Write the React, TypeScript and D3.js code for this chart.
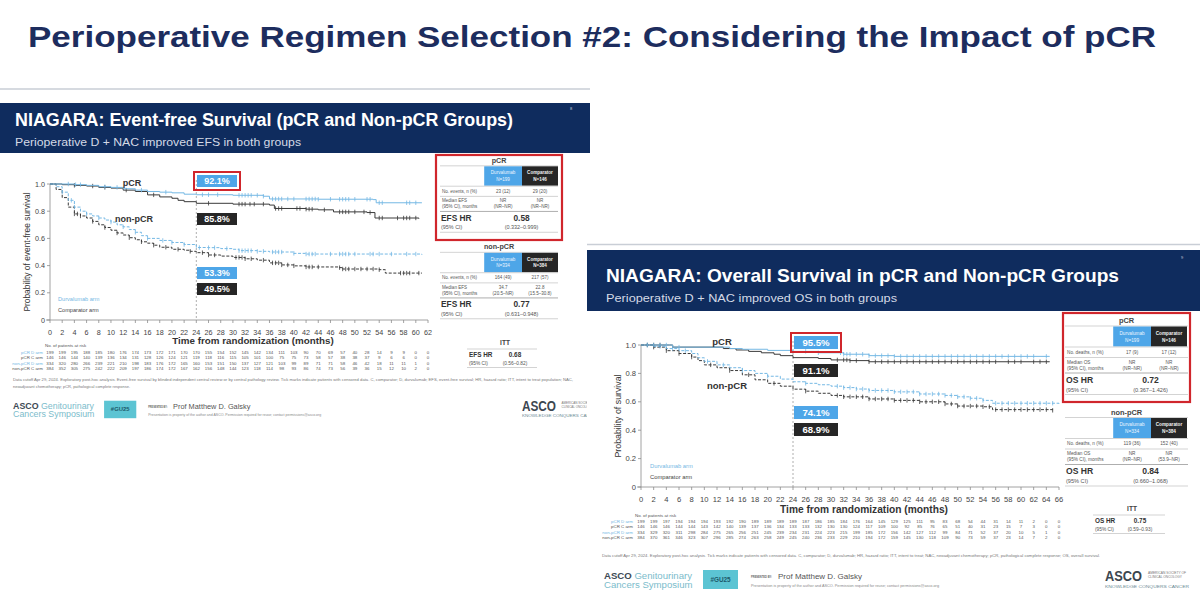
import React from 'react';
import * as d3 from 'd3';

type Pt = [number, number];

const FONT = '"Liberation Sans", Arial, sans-serif';
const NAVY = '#0f2c5e';
const TITLE_NAVY = '#1d2d5e';
const BLUE_FILL = '#4ea6e8';
const CURVE_BLUE = '#74b8e4';
const DARK_FILL = '#262626';
const CURVE_DARK = '#3a3a3a';
const RED = '#d0262c';
const TXT = '#555';

// ---------- Event-free survival (months, probability) ----------
const efsPcrD: Pt[] = [[0, 1], [3, 1], [4, 0.995], [6, 0.99], [8, 0.98], [10, 0.975], [12, 0.965], [14, 0.955], [16, 0.945], [18, 0.94], [20, 0.935], [22, 0.925], [24, 0.921], [30, 0.917], [35, 0.91], [36, 0.89], [44, 0.888], [53, 0.885], [53.5, 0.862], [61, 0.862]];
const efsPcrC: Pt[] = [[0, 1], [2, 0.995], [4, 0.99], [6, 0.985], [8, 0.975], [10, 0.97], [12, 0.955], [14, 0.945], [16, 0.92], [18, 0.905], [20, 0.895], [21, 0.88], [22, 0.87], [24, 0.858], [30, 0.852], [36, 0.845], [36.8, 0.82], [42, 0.815], [44, 0.81], [46.5, 0.795], [52, 0.79], [53.3, 0.75], [60.5, 0.745]];
const efsNonD: Pt[] = [[0, 1], [1, 0.98], [2, 0.94], [3, 0.88], [4, 0.83], [5, 0.8], [6, 0.78], [7, 0.765], [8, 0.75], [9, 0.735], [10, 0.72], [11, 0.7], [12, 0.685], [13, 0.665], [14, 0.645], [15, 0.62], [16, 0.6], [18, 0.585], [20, 0.57], [22, 0.555], [24, 0.533], [26, 0.532], [28, 0.525], [30, 0.52], [31, 0.51], [34, 0.505], [36, 0.5], [40, 0.49], [42, 0.485], [61, 0.48]];
const efsNonC: Pt[] = [[0, 1], [1, 0.96], [2, 0.9], [3, 0.83], [4, 0.78], [5, 0.765], [6, 0.75], [7, 0.725], [8, 0.7], [9, 0.68], [10, 0.66], [11, 0.64], [12, 0.625], [13, 0.605], [14, 0.59], [15, 0.575], [16, 0.565], [17, 0.55], [18, 0.535], [20, 0.52], [22, 0.513], [23, 0.505], [24, 0.495], [26, 0.478], [28, 0.47], [30, 0.46], [32, 0.45], [34, 0.44], [36, 0.42], [38, 0.405], [40, 0.398], [42, 0.39], [47.5, 0.385], [48, 0.375], [54, 0.37], [55, 0.345], [61, 0.345]];

const efsCensorPcrD = [3, 4.2, 5, 9, 11, 15, 19, 25, 26, 27.5, 31, 31.5, 32, 32.5, 33, 34, 35, 36.5, 37, 37.5, 38, 39, 40, 42, 42.5, 43, 43.5, 44, 46, 47.5, 48, 48.5, 49, 50, 52, 52.5, 54, 54.5, 58.5, 59, 60];
const efsCensorPcrC = [4, 7, 9, 12.5, 17, 26, 31, 31.5, 32, 32.8, 33.5, 35, 37, 37.5, 38, 40.5, 41, 42, 42.5, 43, 45, 47.5, 48, 48.5, 49, 50, 51.5, 52.5, 54, 54.5, 57, 58, 58.5, 59, 60];
const efsCensorNonD = [2, 3.5, 4, 6, 8, 10, 12, 14, 16, 18.5, 20, 22, 24.5, 26, 27, 29, 31, 31.5, 32, 32.5, 33, 34, 35, 36.5, 37, 37.5, 38, 40, 42, 42.5, 43, 43.5, 46, 47.5, 48, 48.5, 49, 50, 52.5, 53, 54, 56, 58.5, 60];
const efsCensorNonC = [4, 4.5, 5, 7, 9, 11, 13, 15, 17, 19, 21, 23, 25, 26, 27, 30.5, 31, 31.5, 32, 33, 35, 36.5, 37, 37.5, 38, 39, 40, 42, 42.5, 43, 44, 47.5, 48, 48.5, 49, 50, 51, 52, 53, 54, 57.5, 58, 58.5, 59, 60.5];

// ---------- Overall survival (months, probability) ----------
const osPcrD: Pt[] = [[0, 1], [4.5, 1], [5, 0.985], [12, 0.985], [14, 0.975], [16, 0.97], [20, 0.962], [24, 0.955], [28, 0.945], [32, 0.935], [36, 0.925], [40, 0.92], [64.5, 0.918]];
const osPcrC: Pt[] = [[0, 1], [4.5, 1], [5, 0.985], [12, 0.985], [13, 0.975], [15, 0.965], [17, 0.955], [19, 0.945], [21, 0.935], [22, 0.925], [24, 0.911], [28, 0.905], [30, 0.895], [33, 0.89], [36, 0.882], [64.5, 0.88]];
const osNonD: Pt[] = [[0, 1], [2, 0.99], [4, 0.975], [6, 0.96], [8, 0.94], [9, 0.91], [10, 0.885], [12, 0.86], [14, 0.84], [16, 0.82], [18, 0.8], [20, 0.78], [22, 0.76], [24, 0.741], [26, 0.73], [28, 0.72], [30, 0.71], [32, 0.7], [34, 0.69], [36, 0.68], [40, 0.67], [44, 0.655], [48, 0.645], [50, 0.635], [52, 0.625], [54, 0.61], [55.5, 0.59], [66, 0.585]];
const osNonC: Pt[] = [[0, 1], [2, 0.985], [4, 0.96], [6, 0.94], [8, 0.915], [9, 0.89], [10, 0.86], [12, 0.84], [14, 0.82], [16, 0.79], [18, 0.755], [20, 0.73], [22, 0.71], [24, 0.689], [26, 0.675], [28, 0.66], [30, 0.645], [32, 0.635], [36, 0.62], [40, 0.61], [44, 0.6], [48, 0.585], [50, 0.57], [54, 0.565], [55.5, 0.545], [65, 0.54]];

const osCensorPcrD = [1, 2, 3, 4, 6, 26, 28, 31.5, 32, 32.5, 33, 34, 35, 36, 37, 38, 39, 40, 41, 42, 43, 44, 45, 46, 47, 48, 49, 50, 51, 52, 53, 54, 55, 56, 57, 58, 59, 60, 61, 62, 64];
const osCensorPcrC = [1, 2, 3, 31, 32, 32.5, 33, 34, 36, 37, 38, 39, 40, 41, 42, 43, 44, 45, 46, 47, 48, 49, 50, 51, 52, 53, 54, 55, 56, 58, 59, 60, 62, 63, 64];
const osCensorNonD = [1, 3, 5, 7, 10.5, 13, 16, 20, 26, 31, 32, 33, 34, 35, 36, 37, 38, 39, 40, 41, 42, 43, 44, 45, 46, 47, 48, 49, 50, 51, 52, 53, 54, 56, 57, 58, 59, 60, 61, 62, 63, 64, 65];
const osCensorNonC = [2, 4, 6, 8, 11, 14, 17, 21, 26, 31, 32, 33, 34, 35, 36, 37, 38, 39, 40, 41, 42, 43, 44, 45, 46, 47, 48, 49, 50, 51, 52, 53, 54, 55, 56, 57, 58, 59, 60, 61, 62, 63, 64, 65];

// ---------- Numbers at risk (every 2 months) ----------
const riskLabels = ['pCR D arm', 'pCR C arm', 'non-pCR D arm', 'non-pCR C arm'];
const efsRiskPcrD = [199, 199, 195, 188, 185, 180, 176, 174, 173, 172, 171, 170, 170, 155, 154, 152, 145, 142, 134, 111, 103, 90, 70, 69, 57, 40, 28, 14, 9, 9, 0, 0];
const efsRiskPcrC = [146, 146, 144, 140, 139, 136, 134, 131, 128, 126, 124, 121, 119, 118, 116, 115, 105, 101, 100, 75, 75, 73, 58, 57, 38, 38, 37, 9, 6, 6, 0, 0];
const efsRiskNonD = [334, 320, 280, 266, 239, 221, 210, 198, 183, 176, 172, 165, 160, 153, 151, 150, 137, 127, 121, 103, 99, 89, 71, 71, 58, 46, 42, 18, 11, 11, 1, 0];
const efsRiskNonC = [384, 352, 305, 275, 242, 222, 209, 197, 186, 174, 172, 167, 162, 156, 148, 144, 123, 118, 114, 98, 93, 86, 74, 73, 56, 39, 36, 15, 12, 10, 2, 0];
const osRiskPcrD = [199, 199, 197, 194, 194, 194, 193, 192, 190, 189, 189, 189, 189, 187, 186, 185, 184, 176, 164, 145, 129, 125, 111, 95, 83, 68, 54, 44, 31, 14, 11, 2, 0, 0];
const osRiskPcrC = [146, 146, 146, 144, 144, 143, 142, 140, 139, 137, 136, 134, 133, 133, 132, 130, 130, 124, 117, 109, 100, 92, 85, 76, 65, 51, 40, 31, 23, 15, 7, 3, 0, 0];
const osRiskNonD = [334, 329, 320, 311, 298, 284, 275, 265, 256, 251, 245, 239, 234, 231, 224, 223, 215, 199, 185, 172, 156, 142, 127, 112, 99, 84, 71, 52, 37, 20, 10, 5, 1, 0];
const osRiskNonC = [384, 370, 361, 346, 323, 307, 296, 285, 274, 263, 258, 249, 245, 240, 236, 233, 229, 210, 194, 172, 159, 145, 130, 118, 109, 90, 73, 59, 37, 23, 14, 7, 2, 0];

// ---------- Landmark rates at 24 months ----------
const efsLandmark = [
  { label: '92.1%', value: 0.921, blue: true, boxed: true },
  { label: '85.8%', value: 0.858, blue: false, boxed: false },
  { label: '53.3%', value: 0.533, blue: true, boxed: false },
  { label: '49.5%', value: 0.495, blue: false, boxed: false },
];
const osLandmark = [
  { label: '95.5%', value: 0.955, blue: true, boxed: true },
  { label: '91.1%', value: 0.911, blue: false, boxed: false },
  { label: '74.1%', value: 0.741, blue: true, boxed: false },
  { label: '68.9%', value: 0.689, blue: false, boxed: false },
];

// ---------- Table contents ----------
const efsPcrTable = ['N=199', 'N=146', '23 (12)', '29 (20)', 'NR', '(NR–NR)', 'NR', '(NR–NR)', '0.58', '(0.332–0.999)'];
const efsNonTable = ['N=334', 'N=384', '164 (49)', '217 (57)', '34.7', '(20.5–NR)', '22.8', '(15.5–30.8)', '0.77', '(0.631–0.948)'];
const efsItt = ['0.68', '(0.56–0.82)'];
const osPcrTable = ['N=199', 'N=146', '17 (9)', '17 (12)', 'NR', '(NR–NR)', 'NR', '(NR–NR)', '0.72', '(0.367–1.426)'];
const osNonTable = ['N=334', 'N=384', '119 (36)', '152 (40)', 'NR', '(NR–NR)', 'NR', '(53.9–NR)', '0.84', '(0.660–1.068)'];
const osItt = ['0.75', '(0.59–0.93)'];

function valueAt(data: Pt[], t: number) {
  let v = data[0][1];
  for (const [m, p] of data) {
    if (m <= t) v = p;
    else break;
  }
  return v;
}

interface Series { data: Pt[]; censor: number[]; color: string; dashed: boolean }

function KMPanel(props: {
  x: d3.ScaleLinear<number, number>;
  y: d3.ScaleLinear<number, number>;
  xMax: number;
  series: Series[];
  yLabel: string;
  yLabelX: number;
  fs: number;
  xLabelY: number;
  tickLabelY: number;
}) {
  const { x, y, xMax, series, yLabel, yLabelX, fs, xLabelY, tickLabelY } = props;
  const line = d3.line<Pt>().x((d) => x(d[0])).y((d) => y(d[1])).curve(d3.curveStepAfter);
  const xTicks = d3.range(0, xMax + 1, 2);
  const yTicks = [0, 0.2, 0.4, 0.6, 0.8, 1];
  const x0 = x(0);
  const y0 = y(0);
  const axis = '#8c8c8c';
  return (
    <g fontFamily={FONT}>
      <line x1={x(24)} x2={x(24)} y1={y(1) - 4} y2={y0} stroke="#9a9a9a" strokeWidth={0.8} strokeDasharray="2,2" />
      <line x1={x0} x2={x0} y1={y(1)} y2={y0} stroke={axis} strokeWidth={0.8} />
      {yTicks.map((t) => (
        <g key={t}>
          <line x1={x0 - 3} x2={x0} y1={y(t)} y2={y(t)} stroke={axis} strokeWidth={0.8} />
          <text x={x0 - 5} y={y(t) + fs * 0.35} textAnchor="end" fontSize={fs} fill="#444">
            {t === 0 ? '0' : t.toFixed(1)}
          </text>
        </g>
      ))}
      <line x1={x0 - 4} x2={x(xMax)} y1={y0} y2={y0} stroke={axis} strokeWidth={0.8} />
      {xTicks.map((t) => (
        <g key={t}>
          <line x1={x(t)} x2={x(t)} y1={y0} y2={y0 + 3} stroke={axis} strokeWidth={0.8} />
          <text x={x(t)} y={tickLabelY} textAnchor="middle" fontSize={fs} fill="#444">
            {t}
          </text>
        </g>
      ))}
      <text x={(x0 + x(xMax)) / 2 + 14} y={xLabelY} textAnchor="middle" fontSize={fs + 2.6} fontWeight="bold" fill="#333">
        Time from randomization (months)
      </text>
      <text transform={`translate(${yLabelX},${(y(1) + y0) / 2}) rotate(-90)`} textAnchor="middle" fontSize={fs + 1.2} fill="#333">
        {yLabel}
      </text>
      {series.map((s, i) => (
        <g key={i}>
          <path d={line(s.data) || ''} fill="none" stroke={s.color} strokeWidth={1} strokeDasharray={s.dashed ? '3,1.6' : undefined} />
          {s.censor.map((c, j) => {
            const v = valueAt(s.data, c);
            return <line key={j} x1={x(c)} x2={x(c)} y1={y(v) - 2.2} y2={y(v) + 2.2} stroke={s.color} strokeWidth={0.8} />;
          })}
        </g>
      ))}
    </g>
  );
}

function Landmarks(props: {
  x: number;
  w: number;
  h: number;
  ys: number[];
  items: { label: string; value: number; blue: boolean; boxed: boolean }[];
  fs: number;
}) {
  const { x, w, h, ys, items, fs } = props;
  return (
    <g fontFamily={FONT}>
      {items.map((it, i) => (
        <g key={it.label}>
          {it.boxed && <rect x={x - 3} y={ys[i] - 3} width={w + 6} height={h + 6} fill="none" stroke={RED} strokeWidth={2} />}
          <rect x={x} y={ys[i]} width={w} height={h} fill={it.blue ? BLUE_FILL : DARK_FILL} />
          <text x={x + w / 2} y={ys[i] + h / 2 + fs * 0.36} textAnchor="middle" fontSize={fs} fontWeight="bold" fill="#fff">
            {it.label}
          </text>
        </g>
      ))}
    </g>
  );
}

function RiskTable(props: {
  x: d3.ScaleLinear<number, number>;
  rows: number[][];
  labelX: number;
  headY: number;
  rowY: number[];
  fs: number;
}) {
  const { x, rows, labelX, headY, rowY, fs } = props;
  const colors = [CURVE_BLUE, '#555', CURVE_BLUE, '#555'];
  return (
    <g fontFamily={FONT} fontSize={fs}>
      <text x={labelX + 2} y={headY} fill="#555">No. of patients at risk</text>
      {rows.map((r, i) => (
        <g key={i}>
          <text x={labelX} y={rowY[i]} textAnchor="end" fill={colors[i]}>{riskLabels[i]}</text>
          {r.map((v, j) => (
            <text key={j} x={x(j * 2)} y={rowY[i]} textAnchor="middle" fill="#555">{v}</text>
          ))}
        </g>
      ))}
    </g>
  );
}

function StatTable(props: {
  L: number; R: number; split: number; dEnd: number; T: number; s: number;
  title: string; vals: string[]; countLabel: string; medLabel: string; hrLabel: string;
  boxed: boolean; box?: number[];
}) {
  const { L, R, split, dEnd, T, s, title, vals, countLabel, medLabel, hrLabel, boxed, box } = props;
  const dStart = split - (dEnd - split) * 1.05;
  const dC = (dStart + split) / 2;
  const cC = (split + dEnd) / 2;
  const hrX = (dC + cC) / 2;
  const sm = 4.7 * s;
  const ln = '#c8c8c8';
  const o = (k: number) => T + k * s;
  return (
    <g fontFamily={FONT}>
      {boxed && box && <rect x={box[0]} y={box[1]} width={box[2]} height={box[3]} fill="#fff" stroke={RED} strokeWidth={2.2} />}
      <text x={(L + R) / 2} y={o(2.5)} textAnchor="middle" fontSize={7.4 * s} fontWeight="bold" fill="#444">{title}</text>
      <line x1={L} x2={R} y1={o(5.5)} y2={o(5.5)} stroke={ln} strokeWidth={0.8} />
      <rect x={dStart} y={o(6)} width={split - dStart} height={20 * s} fill={BLUE_FILL} />
      <rect x={split} y={o(6)} width={dEnd - split} height={20 * s} fill={DARK_FILL} />
      <text x={dC} y={o(14)} textAnchor="middle" fontSize={sm} fill="#eef6ff">Durvalumab</text>
      <text x={dC} y={o(21)} textAnchor="middle" fontSize={sm} fill="#eef6ff">{vals[0]}</text>
      <text x={cC} y={o(14)} textAnchor="middle" fontSize={sm} fontWeight="bold" fill="#f2f2f2">Comparator</text>
      <text x={cC} y={o(21)} textAnchor="middle" fontSize={sm} fontWeight="bold" fill="#f2f2f2">{vals[1]}</text>
      <line x1={L} x2={R} y1={o(26.5)} y2={o(26.5)} stroke={ln} strokeWidth={0.8} />
      <text x={L + 2} y={o(33)} fontSize={sm} fill={TXT}>{countLabel}</text>
      <text x={dC} y={o(33)} textAnchor="middle" fontSize={sm} fill={TXT}>{vals[2]}</text>
      <text x={cC} y={o(33)} textAnchor="middle" fontSize={sm} fill={TXT}>{vals[3]}</text>
      <line x1={L} x2={R} y1={o(37)} y2={o(37)} stroke={ln} strokeWidth={0.8} />
      <text x={L + 2} y={o(43)} fontSize={sm} fill={TXT}>{medLabel}</text>
      <text x={L + 2} y={o(49)} fontSize={sm} fill={TXT}>(95% CI), months</text>
      <text x={dC} y={o(43)} textAnchor="middle" fontSize={sm} fill={TXT}>{vals[4]}</text>
      <text x={dC} y={o(49)} textAnchor="middle" fontSize={sm} fill={TXT}>{vals[5]}</text>
      <text x={cC} y={o(43)} textAnchor="middle" fontSize={sm} fill={TXT}>{vals[6]}</text>
      <text x={cC} y={o(49)} textAnchor="middle" fontSize={sm} fill={TXT}>{vals[7]}</text>
      <line x1={L} x2={R} y1={o(52.5)} y2={o(52.5)} stroke="#999" strokeWidth={0.8} />
      <text x={L + 1} y={o(62)} fontSize={8.6 * s} fontWeight="bold" fill="#333">{hrLabel}</text>
      <text x={hrX} y={o(62)} textAnchor="middle" fontSize={8.6 * s} fontWeight="bold" fill="#333">{vals[8]}</text>
      <text x={L + 1} y={o(71)} fontSize={5.6 * s} fill={TXT}>(95% CI)</text>
      <text x={hrX} y={o(71)} textAnchor="middle" fontSize={5.6 * s} fill={TXT}>{vals[9]}</text>
      <line x1={L} x2={R} y1={o(74)} y2={o(74)} stroke={ln} strokeWidth={0.8} />
    </g>
  );
}

function IttTable(props: { L: number; R: number; valX: number; T: number; s: number; hrLabel: string; vals: string[] }) {
  const { L, R, valX, T, s, hrLabel, vals } = props;
  return (
    <g fontFamily={FONT}>
      <text x={(L + R) / 2 + 3} y={T} textAnchor="middle" fontSize={6.6 * s} fontWeight="bold" fill="#444">ITT</text>
      <line x1={L} x2={R} y1={T + 4 * s} y2={T + 4 * s} stroke="#c8c8c8" strokeWidth={0.8} />
      <text x={L + 2} y={T + 12 * s} fontSize={6.4 * s} fontWeight="bold" fill="#333">{hrLabel}</text>
      <text x={valX} y={T + 12 * s} textAnchor="middle" fontSize={6.4 * s} fontWeight="bold" fill="#333">{vals[0]}</text>
      <text x={L + 2} y={T + 19.5 * s} fontSize={4.8 * s} fill={TXT}>(95% CI)</text>
      <text x={valX} y={T + 19.5 * s} textAnchor="middle" fontSize={4.8 * s} fill={TXT}>{vals[1]}</text>
      <line x1={L} x2={R} y1={T + 22.5 * s} y2={T + 22.5 * s} stroke="#c8c8c8" strokeWidth={0.8} />
    </g>
  );
}

function Footer(props: { x: number; y: number; s: number; logoX: number }) {
  const { x, y, s, logoX } = props;
  return (
    <g fontFamily={FONT}>
      <text x={x} y={y} fontSize={9.6 * s}>
        <tspan fontWeight="bold" fill="#3d4a55">ASCO</tspan>
        <tspan fill="#7bbccb"> Genitourinary</tspan>
      </text>
      <text x={x} y={y + 9 * s} fontSize={9.6 * s} fill="#7bbccb">Cancers Symposium</text>
      <rect x={x + 99 * s} y={y - 9 * s} width={35 * s} height={19 * s} fill="#5cc4d3" />
      <text x={x + 116.5 * s} y={y + 2.5 * s} textAnchor="middle" fontSize={6.4 * s} fontWeight="bold" fill="#1d5a6b">#GU25</text>
      <text x={x + 147 * s} y={y - 1 * s} fontSize={3.4 * s} fontWeight="bold" fill="#666" textLength={21 * s} lengthAdjust="spacingAndGlyphs">PRESENTED BY:</text>
      <text x={x + 174 * s} y={y - 0.5 * s} fontSize={8 * s} fill="#555">Prof Matthew D. Galsky</text>
      <text x={x + 147 * s} y={y + 8 * s} fontSize={3.4 * s} fill="#888" textLength={188 * s} lengthAdjust="spacingAndGlyphs">
        Presentation is property of the author and ASCO. Permission required for reuse; contact permissions@asco.org
      </text>
      <text x={logoX} y={y + 2 * s} fontSize={15 * s} fontWeight="bold" fill="#3c4650" textLength={37 * s} lengthAdjust="spacingAndGlyphs">ASCO</text>
      <text x={logoX + 43 * s} y={y - 5 * s} fontSize={3.3 * s} fill="#777" textLength={38 * s} lengthAdjust="spacingAndGlyphs">AMERICAN SOCIETY OF</text>
      <text x={logoX + 43 * s} y={y - 1 * s} fontSize={3.3 * s} fill="#777" textLength={34 * s} lengthAdjust="spacingAndGlyphs">CLINICAL ONCOLOGY</text>
      <text x={logoX} y={y + 9 * s} fontSize={4 * s} fill="#6a8a95" textLength={84 * s} lengthAdjust="spacingAndGlyphs">KNOWLEDGE CONQUERS CANCER</text>
    </g>
  );
}

export default function App() {
  // left slide: event-free survival
  const xL = d3.scaleLinear().domain([0, 62]).range([50, 428]);
  const yL = d3.scaleLinear().domain([0, 1]).range([320, 184]);
  // right slide: overall survival
  const xR = d3.scaleLinear().domain([0, 66]).range([641, 1059]);
  const yR = d3.scaleLinear().domain([0, 1]).range([487, 345]);

  const efsSeries: Series[] = [
    { data: efsNonC, censor: efsCensorNonC, color: CURVE_DARK, dashed: true },
    { data: efsNonD, censor: efsCensorNonD, color: CURVE_BLUE, dashed: true },
    { data: efsPcrC, censor: efsCensorPcrC, color: CURVE_DARK, dashed: false },
    { data: efsPcrD, censor: efsCensorPcrD, color: CURVE_BLUE, dashed: false },
  ];
  const osSeries: Series[] = [
    { data: osNonC, censor: osCensorNonC, color: CURVE_DARK, dashed: true },
    { data: osNonD, censor: osCensorNonD, color: CURVE_BLUE, dashed: true },
    { data: osPcrC, censor: osCensorPcrC, color: CURVE_DARK, dashed: false },
    { data: osPcrD, censor: osCensorPcrD, color: CURVE_BLUE, dashed: false },
  ];

  return (
    <svg width={1200} height={607} viewBox="0 0 1200 607" style={{ position: 'absolute', left: 0, top: 0, background: '#fff' }}>
      <rect x={0} y={0} width={1200} height={607} fill="#fff" />
      <text x={28} y={47} fontFamily={FONT} fontSize={30} fontWeight="bold" fill={TITLE_NAVY} textLength={1128} lengthAdjust="spacingAndGlyphs">
        Perioperative Regimen Selection #2: Considering the Impact of pCR
      </text>

      {/* ===== Left slide: EFS ===== */}
      <g>
        <line x1={0} x2={590} y1={89} y2={89} stroke="#c9ced6" strokeWidth={1.5} />
        <rect x={0} y={103} width={590} height={50} fill={NAVY} />
        <text x={15} y={126} fontFamily={FONT} fontSize={18.5} fontWeight="bold" fill="#fff" textLength={498} lengthAdjust="spacingAndGlyphs">
          NIAGARA: Event-free Survival (pCR and Non-pCR Groups)
        </text>
        <text x={15} y={146} fontFamily={FONT} fontSize={11} fill="#d4dae6" textLength={286} lengthAdjust="spacingAndGlyphs">
          Perioperative D + NAC improved EFS in both groups
        </text>
        <text x={570} y={110} fontFamily={FONT} fontSize={4} fill="#ccd">8</text>

        <KMPanel x={xL} y={yL} xMax={62} series={efsSeries} yLabel="Probability of event-free survival" yLabelX={30} fs={7.2} xLabelY={344} tickLabelY={335} />
        <text x={132} y={186} textAnchor="middle" fontFamily={FONT} fontSize={9} fontWeight="bold" fill="#333">pCR</text>
        <text x={134} y={222} textAnchor="middle" fontFamily={FONT} fontSize={9} fontWeight="bold" fill="#333">non-pCR</text>
        <text x={58} y={301} fontFamily={FONT} fontSize={5.6} fill={CURVE_BLUE}>Durvalumab arm</text>
        <text x={58} y={312} fontFamily={FONT} fontSize={5.6} fill="#444">Comparator arm</text>
        <Landmarks x={197} w={40} h={12} ys={[175, 213, 267, 283]} items={efsLandmark} fs={9} />

        <RiskTable x={xL} rows={[efsRiskPcrD, efsRiskPcrC, efsRiskNonD, efsRiskNonC]} labelX={43} headY={347} rowY={[353.5, 359, 364.5, 370]} fs={4.4} />
        <text x={13} y={381} fontFamily={FONT} fontSize={3.6} fill="#777" textLength={560} lengthAdjust="spacingAndGlyphs">
          Data cutoff Apr 29, 2024. Exploratory post-hoc analysis. Event-free survival by blinded independent central review or by central pathology review. Tick marks indicate patients with censored data. C, comparator; D, durvalumab; EFS, event-free survival; HR, hazard ratio; ITT, intent to treat population; NAC,
        </text>
        <text x={13} y={388} fontFamily={FONT} fontSize={3.6} fill="#777" textLength={117} lengthAdjust="spacingAndGlyphs">
          neoadjuvant chemotherapy; pCR, pathological complete response.
        </text>

        <StatTable L={440} R={558} split={522} dEnd={558} T={160.5} s={0.97} title="pCR" vals={efsPcrTable}
          countLabel="No. events, n (%)" medLabel="Median EFS" hrLabel="EFS HR" boxed box={[436, 155, 126, 85]} />
        <StatTable L={440} R={558} split={522} dEnd={558} T={247} s={0.97} title="non-pCR" vals={efsNonTable}
          countLabel="No. events, n (%)" medLabel="Median EFS" hrLabel="EFS HR" boxed={false} />
        <IttTable L={467} R={537} valX={515} T={345} s={1} hrLabel="EFS HR" vals={efsItt} />

        <Footer x={13} y={409} s={0.92} logoX={522} />
      </g>

      {/* ===== Right slide: OS ===== */}
      <g>
        <rect x={587} y={244} width={613} height={363} fill="#fff" />
        <line x1={587} x2={1200} y1={244.5} y2={244.5} stroke="#c9ced6" strokeWidth={1.5} />
        <rect x={587} y={250} width={613} height={61} fill={NAVY} />
        <text x={606} y={282} fontFamily={FONT} fontSize={19} fontWeight="bold" fill="#fff" textLength={513} lengthAdjust="spacingAndGlyphs">
          NIAGARA: Overall Survival in pCR and Non-pCR Groups
        </text>
        <text x={606} y={302} fontFamily={FONT} fontSize={11.5} fill="#d4dae6" textLength={291} lengthAdjust="spacingAndGlyphs">
          Perioperative D + NAC improved OS in both groups
        </text>
        <text x={1181} y={259} fontFamily={FONT} fontSize={4} fill="#ccd">9</text>

        <KMPanel x={xR} y={yR} xMax={66} series={osSeries} yLabel="Probability of survival" yLabelX={621} fs={7.6} xLabelY={513} tickLabelY={502} />
        <text x={722} y={345} textAnchor="middle" fontFamily={FONT} fontSize={9.5} fontWeight="bold" fill="#333">pCR</text>
        <text x={727} y={389} textAnchor="middle" fontFamily={FONT} fontSize={9.5} fontWeight="bold" fill="#333">non-pCR</text>
        <text x={650} y={468} fontFamily={FONT} fontSize={5.8} fill={CURVE_BLUE}>Durvalumab arm</text>
        <text x={650} y={479} fontFamily={FONT} fontSize={5.8} fill="#444">Comparator arm</text>
        <Landmarks x={794} w={44} h={13} ys={[336, 364, 406, 423]} items={osLandmark} fs={9.6} />

        <RiskTable x={xR} rows={[osRiskPcrD, osRiskPcrC, osRiskNonD, osRiskNonC]} labelX={633} headY={516.5} rowY={[522.5, 528, 533.5, 539]} fs={4.4} />
        <text x={602} y={557} fontFamily={FONT} fontSize={3.6} fill="#777" textLength={498} lengthAdjust="spacingAndGlyphs">
          Data cutoff Apr 29, 2024. Exploratory post-hoc analysis. Tick marks indicate patients with censored data. C, comparator; D, durvalumab; HR, hazard ratio; ITT, intent to treat; NAC, neoadjuvant chemotherapy; pCR, pathological complete response; OS, overall survival.
        </text>

        <StatTable L={1065} R={1188} split={1151} dEnd={1187} T={320.5} s={1} title="pCR" vals={osPcrTable}
          countLabel="No. deaths, n (%)" medLabel="Median OS" hrLabel="OS HR" boxed box={[1063, 313, 127, 89]} />
        <StatTable L={1065} R={1188} split={1151} dEnd={1187} T={412} s={1} title="non-pCR" vals={osNonTable}
          countLabel="No. deaths, n (%)" medLabel="Median OS" hrLabel="OS HR" boxed={false} />
        <IttTable L={1093} R={1165} valX={1140} T={511} s={1} hrLabel="OS HR" vals={osItt} />

        <Footer x={604} y={579} s={1} logoX={1105} />
      </g>
    </svg>
  );
}
